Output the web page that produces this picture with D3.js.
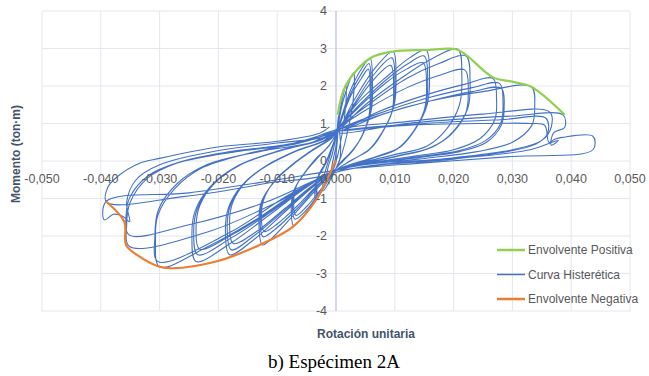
<!DOCTYPE html>
<html>
<head>
<meta charset="utf-8">
<script src="https://cdnjs.cloudflare.com/ajax/libs/d3/7.8.5/d3.min.js"></script>
<style>
  body { margin: 0; background: #fff; }
  text { font-family: "Liberation Sans", Arial, sans-serif; }
</style>
</head>
<body>
<script>
// ticks
var xTicks = [-0.05, -0.04, -0.03, -0.02, -0.01, 0, 0.01, 0.02, 0.03, 0.04, 0.05];
var yTicks = [-4, -3, -2, -1, 0, 1, 2, 3, 4];

// envolventes [rotacion, momento]
var envPositiva = [[0.0003,1.23],[0.0017,2.03],[0.0058,2.74],[0.0097,2.92],[0.0153,2.96],[0.0204,2.98],
  [0.0221,2.83],[0.0267,2.23],[0.0301,2.11],[0.0332,1.98],[0.0389,1.23]];
var envNegativa = [[0.0000,0.03],[-0.0034,-1.04],[-0.0073,-1.75],[-0.0130,-2.24],[-0.0204,-2.68],
  [-0.0278,-2.86],[-0.0300,-2.82],[-0.0334,-2.55],[-0.0357,-2.24],[-0.0360,-1.62],[-0.0391,-1.08]];

// curva histeretica, por grupos de ciclos
var ciclosA = [[0,0],[0.0001,0.5],[0.0004,1.2],[0.0003,0.7],[0.0000,0.2],[-0.0004,-0.15],[-0.0008,-0.3],[-0.0006,-0.05],[0.0000,0.4],
  [0.0006,1.3],[0.0017,2.0],[0.0016,1.4],[0.0010,0.7],[0.0002,0.1],[-0.0008,-0.35],[-0.0016,-0.55],[-0.0014,-0.2],[-0.0006,0.2],[0.0002,0.8],
  [0.0012,1.6],[0.0030,2.35],[0.0029,1.6],[0.0020,0.8],[0.0008,0.1],[-0.0008,-0.45],[-0.0022,-0.8],[-0.0020,-0.4],[-0.0010,0.15],[0.0002,0.8]];
var ciclosB = [[0.0004,0.9],[0.0025,1.9],[0.0045,2.5],[0.0058,2.74],[0.0062,2.0],[0.0060,1.35],[0.0045,0.7],[0.0030,0.3],[0.0012,0.0],[0.0,-0.2],
  [-0.0015,-0.55],[-0.0027,-0.88],[-0.0034,-1.04],[-0.0036,-0.75],[-0.0033,-0.5],[-0.0022,-0.2],[-0.0010,0.25],[0.0002,0.75],
  [0.0025,1.8],[0.0044,2.35],[0.0056,2.6],[0.0060,1.9],[0.0058,1.3],[0.0044,0.65],[0.0028,0.28],[0.0010,0.0],[0.0,-0.2],
  [-0.0014,-0.5],[-0.0026,-0.82],[-0.0032,-0.95],[-0.0034,-0.7],[-0.0031,-0.45],[-0.0020,-0.15],[-0.0008,0.3],[0.0003,0.8],
  [0.0024,1.7],[0.0043,2.2],[0.0055,2.45],[0.0058,1.8],[0.0056,1.2],[0.0042,0.6],[0.0026,0.25],[0.0010,-0.02],[0.0,-0.2],
  [-0.0013,-0.48],[-0.0025,-0.76],[-0.0031,-0.88],[-0.0033,-0.6],[-0.0029,-0.35],[-0.0018,-0.05],[-0.0006,0.4],[0.0004,0.85]];
var ciclosC = [[0.0005,0.85],[0.0030,1.6],[0.0065,2.45],[0.0097,2.92],[0.0102,2.2],[0.0099,1.5],[0.0082,0.85],[0.0060,0.35],[0.0030,0.05],[0.0,-0.25],
  [-0.0025,-0.8],[-0.0052,-1.4],[-0.0072,-1.72],[-0.0076,-1.25],[-0.0072,-0.8],[-0.0055,-0.35],[-0.0035,0.05],[-0.0012,0.4],[0.0003,0.8],
  [0.0030,1.5],[0.0064,2.3],[0.0095,2.75],[0.0100,2.05],[0.0097,1.4],[0.0080,0.8],[0.0058,0.32],[0.0028,0.03],[0.0,-0.25],
  [-0.0024,-0.75],[-0.0050,-1.3],[-0.0070,-1.55],[-0.0074,-1.15],[-0.0069,-0.7],[-0.0052,-0.3],[-0.0032,0.08],[-0.0010,0.45],[0.0004,0.82],
  [0.0030,1.45],[0.0063,2.15],[0.0093,2.55],[0.0098,1.9],[0.0095,1.3],[0.0078,0.75],[0.0056,0.3],[0.0026,0.02],[0.0,-0.25],
  [-0.0023,-0.7],[-0.0049,-1.2],[-0.0068,-1.45],[-0.0072,-1.05],[-0.0067,-0.65],[-0.0050,-0.25],[-0.0030,0.1],[-0.0010,0.45],[0.0005,0.85]];
var ciclosD = [[0.0006,0.9],[0.0040,1.6],[0.0090,2.3],[0.0125,2.75],[0.0153,2.96],[0.0159,2.2],[0.0155,1.5],[0.0135,0.85],[0.0110,0.38],[0.0065,0.1],[0.0,-0.25],
  [-0.0030,-0.7],[-0.0070,-1.4],[-0.0105,-2.0],[-0.0125,-2.24],[-0.0131,-1.7],[-0.0127,-1.1],[-0.0105,-0.55],[-0.0075,-0.1],[-0.0040,0.3],[-0.0010,0.6],[0.0005,0.9],
  [0.0040,1.5],[0.0088,2.2],[0.0123,2.6],[0.0150,2.8],[0.0156,2.1],[0.0152,1.42],[0.0132,0.8],[0.0106,0.35],[0.0062,0.08],[0.0,-0.25],
  [-0.0030,-0.65],[-0.0068,-1.3],[-0.0102,-1.8],[-0.0124,-2.02],[-0.0129,-1.55],[-0.0124,-1.0],[-0.0102,-0.5],[-0.0072,-0.08],[-0.0038,0.3],[-0.0010,0.58],[0.0005,0.88],
  [0.0040,1.45],[0.0086,2.1],[0.0120,2.45],[0.0148,2.62],[0.0154,1.95],[0.0150,1.35],[0.0130,0.75],[0.0104,0.32],[0.0060,0.06],[0.0,-0.25],
  [-0.0030,-0.62],[-0.0066,-1.2],[-0.0100,-1.68],[-0.0122,-1.88],[-0.0127,-1.45],[-0.0121,-0.95],[-0.0100,-0.45],[-0.0070,-0.05],[-0.0036,0.32],[-0.0008,0.6],[0.0006,0.88]];
var ciclosE = [[0.0006,0.85],[0.0050,1.5],[0.0110,2.2],[0.0160,2.7],[0.0207,2.98],[0.0214,2.25],[0.0210,1.5],[0.0188,0.85],[0.0155,0.4],[0.0095,0.15],[0.0,-0.25],
  [-0.0040,-0.7],[-0.0090,-1.4],[-0.0140,-2.1],[-0.0181,-2.5],[-0.0188,-1.9],[-0.0183,-1.25],[-0.0160,-0.65],[-0.0120,-0.15],[-0.0070,0.25],[-0.0020,0.55],[0.0005,0.9],
  [0.0055,1.5],[0.0120,2.2],[0.0175,2.6],[0.0221,2.8],[0.0228,2.1],[0.0224,1.4],[0.0200,0.8],[0.0165,0.38],[0.0100,0.12],[0.0,-0.25],
  [-0.0040,-0.68],[-0.0090,-1.35],[-0.0140,-2.0],[-0.0178,-2.37],[-0.0185,-1.8],[-0.0180,-1.2],[-0.0157,-0.6],[-0.0118,-0.12],[-0.0068,0.27],[-0.0018,0.56],[0.0005,0.88],
  [0.0055,1.4],[0.0120,1.95],[0.0175,2.28],[0.0219,2.43],[0.0225,1.85],[0.0220,1.25],[0.0195,0.7],[0.0160,0.35],[0.0098,0.1],[0.0,-0.25],
  [-0.0040,-0.65],[-0.0088,-1.28],[-0.0137,-1.9],[-0.0175,-2.2],[-0.0181,-1.7],[-0.0176,-1.12],[-0.0153,-0.55],[-0.0115,-0.1],[-0.0065,0.28],[-0.0016,0.56],[0.0005,0.86]];
var ciclosF = [[0.0006,0.8],[0.0070,1.3],[0.0150,1.75],[0.0220,2.05],[0.0267,2.2],[0.0273,1.65],[0.0270,1.1],[0.0245,0.6],[0.0200,0.3],[0.0120,0.1],[0.0,-0.25],
  [-0.0050,-0.7],[-0.0110,-1.4],[-0.0180,-2.2],[-0.0238,-2.68],[-0.0245,-2.0],[-0.0240,-1.35],[-0.0215,-0.7],[-0.0170,-0.15],[-0.0100,0.25],[-0.0030,0.55],[0.0005,0.85],
  [0.0070,1.25],[0.0160,1.7],[0.0230,1.95],[0.0278,2.07],[0.0284,1.55],[0.0280,1.0],[0.0255,0.55],[0.0210,0.28],[0.0125,0.08],[0.0,-0.25],
  [-0.0050,-0.68],[-0.0110,-1.35],[-0.0178,-2.05],[-0.0235,-2.5],[-0.0242,-1.9],[-0.0236,-1.28],[-0.0211,-0.65],[-0.0166,-0.12],[-0.0098,0.27],[-0.0028,0.55],[0.0005,0.83],
  [0.0070,1.2],[0.0160,1.6],[0.0232,1.85],[0.0281,1.94],[0.0286,1.45],[0.0281,0.95],[0.0256,0.5],[0.0210,0.25],[0.0125,0.06],[0.0,-0.25],
  [-0.0050,-0.65],[-0.0108,-1.3],[-0.0175,-1.95],[-0.0232,-2.35],[-0.0238,-1.8],[-0.0232,-1.2],[-0.0207,-0.6],[-0.0162,-0.1],[-0.0095,0.28],[-0.0025,0.56],[0.0005,0.82]];
var ciclosG = [[0.0006,0.8],[0.0080,1.25],[0.0160,1.6],[0.0250,1.85],[0.0332,1.98],[0.0338,1.45],[0.0333,0.95],[0.0300,0.5],[0.0240,0.25],[0.0140,0.05],[0.0,-0.25],
  [-0.0060,-0.75],[-0.0130,-1.5],[-0.0220,-2.3],[-0.0300,-2.82],[-0.0307,-2.1],[-0.0303,-1.45],[-0.0275,-0.75],[-0.0230,-0.2],[-0.0150,0.2],[-0.0060,0.5],[0.0005,0.85],
  [0.0120,1.05],[0.0250,1.25],[0.0363,1.31],[0.0366,0.9],[0.0350,0.55],[0.0300,0.3],[0.0180,0.05],[0.0,-0.3],
  [-0.0080,-0.9],[-0.0180,-1.9],[-0.0303,-2.68],[-0.0308,-2.0],[-0.0302,-1.3],[-0.0270,-0.6],[-0.0220,-0.1],[-0.0130,0.25],[-0.0040,0.5],[0.0005,0.8]];
var ciclosH = [[0.0006,0.75],[0.0120,1.0],[0.0240,1.15],[0.0300,1.2],[0.0386,1.23],[0.0389,0.9],[0.0370,0.75],[0.0366,0.42],[0.0378,0.55],[0.0330,0.3],[0.0200,0.05],[0.0,-0.3],
  [-0.0100,-1.1],[-0.0220,-1.9],[-0.0351,-2.28],[-0.0356,-1.7],[-0.0350,-1.1],[-0.0320,-0.45],[-0.0270,-0.05],[-0.0180,0.25],[-0.0080,0.45],[0.0005,0.8],
  [0.0150,1.0],[0.0280,1.1],[0.0357,1.14],[0.0360,0.75],[0.0340,0.45],[0.0250,0.15],[0.0100,-0.05],[0.0,-0.3],
  [-0.0120,-1.1],[-0.0250,-1.7],[-0.0352,-1.97],[-0.0357,-1.45],[-0.0350,-0.95],[-0.0320,-0.4],[-0.0270,-0.05],[-0.0170,0.25],[-0.0070,0.45],[0.0005,0.8]];
var ciclosI = [[0.0006,0.8],[0.0120,0.95],[0.0250,1.0],[0.0330,1.0],[0.0355,0.95],[0.0362,0.5],[0.0372,0.58],[0.0385,0.63],[0.0437,0.66],[0.0437,0.30],
  [0.0300,0.12],[0.0150,-0.05],[0.0,-0.25],[-0.0100,-0.5],[-0.0250,-0.85],[-0.0391,-1.08],[-0.0394,-1.57],[-0.0378,-1.42],[-0.0362,-1.48],[-0.0351,-1.62],
  [-0.0356,-1.1],[-0.0340,-0.5],[-0.0300,-0.1],[-0.0200,0.28],[-0.0100,0.48],[0.0,0.72],[0.0004,0.9],[0.0,-0.2],
  [-0.0120,-0.6],[-0.0260,-0.95],[-0.0390,-1.1],[-0.0388,-0.7],[-0.0372,-0.42],[-0.0334,-0.06],[-0.0300,0.07],[-0.0198,0.38],[-0.0102,0.52],[-0.0028,0.74],[-0.0011,0.91]];

var histeresis = ciclosA.concat(ciclosB, ciclosC, ciclosD, ciclosE, ciclosF, ciclosG, ciclosH, ciclosI);

var leyenda = ["Envolvente Positiva", "Curva Histerética", "Envolvente Negativa"];
var colores = ["#92d050", "#4472c4", "#ed7d31"];

var width = 649,
    height = 376;

var svg = d3.select("body").append("svg")
    .attr("width", width)
    .attr("height", height);

var x = d3.scaleLinear().domain([-0.05, 0.05]).range([42, 630]);
var y = d3.scaleLinear().domain([-4, 4]).range([311, 11]);

var fmt = function(d) { return d3.format(".3f")(d).replace(".", ",").replace("−", "-"); };

// grid
svg.append("g").selectAll("line")
    .data(xTicks)
    .enter().append("line")
    .attr("x1", function(d) { return x(d); })
    .attr("x2", function(d) { return x(d); })
    .attr("y1", y(4))
    .attr("y2", y(-4))
    .style("stroke", "#e3e6ed")
    .style("stroke-width", 1);

svg.append("g").selectAll("line")
    .data(yTicks)
    .enter().append("line")
    .attr("x1", x(-0.05))
    .attr("x2", x(0.05))
    .attr("y1", function(d) { return y(d); })
    .attr("y2", function(d) { return y(d); })
    .style("stroke", "#e3e6ed")
    .style("stroke-width", 1);

// eje vertical en cero
svg.append("line")
    .attr("x1", x(0)).attr("x2", x(0))
    .attr("y1", y(4)).attr("y2", y(-4))
    .style("stroke", "#b3bed3")
    .style("stroke-width", 1);

// curvas
var line = d3.line()
    .x(function(d) { return x(d[0]); })
    .y(function(d) { return y(d[1]); })
    .curve(d3.curveCatmullRom.alpha(0.5));

svg.append("path")
    .datum(histeresis)
    .attr("d", line)
    .style("fill", "none")
    .style("stroke", colores[1])
    .style("stroke-width", 1.1);

svg.append("path")
    .datum(envPositiva)
    .attr("d", line)
    .style("fill", "none")
    .style("stroke", colores[0])
    .style("stroke-width", 2.2);

svg.append("path")
    .datum(envNegativa)
    .attr("d", line)
    .style("fill", "none")
    .style("stroke", colores[2])
    .style("stroke-width", 2.2);

// etiquetas de ejes
svg.append("g").selectAll("text")
    .data(xTicks)
    .enter().append("text")
    .attr("x", function(d) { return x(d); })
    .attr("y", y(0) + 22)
    .attr("text-anchor", "middle")
    .style("font-size", "12.5px")
    .style("fill", "#595959")
    .text(function(d) { return fmt(d); });

svg.append("g").selectAll("text")
    .data(yTicks)
    .enter().append("text")
    .attr("x", x(0) - 9)
    .attr("y", function(d) { return y(d); })
    .attr("dy", ".35em")
    .attr("text-anchor", "end")
    .style("font-size", "12.5px")
    .style("fill", "#595959")
    .text(function(d) { return d; });

svg.append("text")
    .attr("transform", "translate(20,154) rotate(-90)")
    .attr("text-anchor", "middle")
    .style("font-size", "12px")
    .style("font-weight", "bold")
    .style("fill", "#44546a")
    .text("Momento (ton·m)");

svg.append("text")
    .attr("x", 366)
    .attr("y", 338)
    .attr("text-anchor", "middle")
    .style("font-size", "12px")
    .style("font-weight", "bold")
    .style("fill", "#44546a")
    .text("Rotación unitaria");

svg.append("text")
    .attr("x", 334)
    .attr("y", 368)
    .attr("text-anchor", "middle")
    .style("font-family", "'Liberation Serif', 'Times New Roman', serif")
    .style("font-size", "19px")
    .style("fill", "#000")
    .text("b) Espécimen 2A");

// leyenda
var leg = svg.append("g").selectAll("g")
    .data(leyenda)
    .enter().append("g")
    .attr("transform", function(d, i) { return "translate(497," + (250 + i * 24.5) + ")"; });

leg.append("line")
    .attr("x1", 0).attr("x2", 28)
    .style("stroke", function(d, i) { return colores[i]; })
    .style("stroke-width", function(d, i) { return i == 1 ? 1.5 : 2.5; });

leg.append("text")
    .attr("x", 31)
    .attr("dy", ".35em")
    .style("font-size", "12px")
    .style("fill", "#595959")
    .text(function(d) { return d; });
</script>
</body>
</html>
